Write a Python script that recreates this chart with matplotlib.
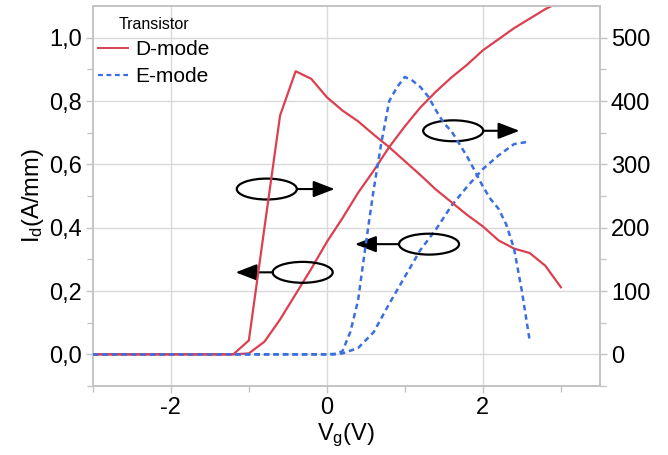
import matplotlib
matplotlib.use("Agg")
import matplotlib.pyplot as plt
from matplotlib.patches import Ellipse
from matplotlib.ticker import FixedLocator, FixedFormatter
from matplotlib.lines import Line2D

plt.rcParams['font.family'] = ['Liberation Sans', 'DejaVu Sans']
plt.rcParams['mathtext.default'] = 'regular'

# ---- data ----
vg_d = [-3.0, -2.8, -2.6, -2.4, -2.2, -2.0, -1.8, -1.6, -1.4, -1.2, -1.0, -0.8, -0.6, -0.4, -0.2,
        0.0, 0.2, 0.4, 0.6, 0.8, 1.0, 1.2, 1.4, 1.6, 1.8, 2.0, 2.2, 2.4, 2.6, 2.8, 3.0]
id_d = [0, 0, 0, 0, 0, 0, 0, 0, 0, 0, 0.003, 0.04, 0.11, 0.19, 0.27,
        0.355, 0.43, 0.51, 0.58, 0.655, 0.72, 0.78, 0.83, 0.875, 0.915, 0.96, 0.995, 1.03, 1.06, 1.09, 1.115]
gm_d = [0, 0, 0, 0, 0, 0, 0, 0, 0, 0, 22, 200, 377, 447, 435,
        406, 385, 368, 347, 327, 305, 283, 260, 240, 220, 202, 180, 167, 160, 140, 106]

vg_e_id = [-3.0, -2.0, -1.0, 0.0, 0.2, 0.4, 0.6, 0.8, 1.0, 1.2, 1.4, 1.6, 1.8, 2.0, 2.2, 2.4, 2.6]
id_e = [0, 0, 0, 0, 0.003, 0.02, 0.07, 0.16, 0.245, 0.33, 0.395, 0.47, 0.53, 0.585, 0.628, 0.664, 0.672]

vg_e_gm = [-3.0, -2.0, -1.0, 0.0, 0.1, 0.2, 0.3, 0.4, 0.5, 0.6, 0.7, 0.8, 0.9, 1.0, 1.1, 1.2, 1.3,
           1.4, 1.5, 1.6, 1.7, 1.8, 1.9, 2.0, 2.1, 2.2, 2.3, 2.4, 2.5, 2.6]
gm_e = [0, 0, 0, 0, 0, 5, 35, 85, 175, 260, 335, 400, 422, 438, 432, 422, 407,
        385, 365, 352, 332, 312, 289, 265, 245, 230, 205, 167, 100, 22]

left_ticks = [0.0, 0.2, 0.4, 0.6, 0.8, 1.0]
left_labels = ['0,0', '0,2', '0,4', '0,6', '0,8', '1,0']
right_ticks = [0, 100, 200, 300, 400, 500]
x_ticks = [-2, 0, 2]

red = '#dc3f50'
blue = '#3b6fe0'
grid_c = '#dadada'
spine_c = '#c4c4c4'
dash = (0, (2.2, 1.6))

fig = plt.figure(figsize=(6.68, 4.55), dpi=100)
ax = fig.add_axes([0.139, 0.1516, 0.759, 0.8352])
ax2 = ax.twinx()

ax.set_xlim(-3.0, 3.5)
ax.set_ylim(-0.1, 1.1)
ax2.set_ylim(-50, 550)

ax.plot(vg_d, id_d, color=red, lw=1.6, zorder=3)
ax2.plot(vg_d, gm_d, color=red, lw=1.6, zorder=3)
ax.plot(vg_e_id, id_e, color=blue, lw=1.8, ls=dash, zorder=4)
ax2.plot(vg_e_gm, gm_e, color=blue, lw=1.8, ls=dash, zorder=4)

ax.set_xticks(x_ticks)
ax.set_xticklabels([str(v) for v in x_ticks])
ax.xaxis.set_minor_locator(FixedLocator([-3, -1, 1, 3]))
ax.yaxis.set_major_locator(FixedLocator(left_ticks))
ax.yaxis.set_major_formatter(FixedFormatter(left_labels))
ax.yaxis.set_minor_locator(FixedLocator([-0.1, 0.1, 0.3, 0.5, 0.7, 0.9]))
ax2.yaxis.set_major_locator(FixedLocator(right_ticks))
ax2.yaxis.set_minor_locator(FixedLocator([-50, 50, 150, 250, 350, 450]))
ax.grid(True, which='major', color=grid_c, lw=1.0, zorder=0)
ax.set_axisbelow(True)

for a in (ax, ax2):
    for s in a.spines.values():
        s.set_color(spine_c)
        s.set_linewidth(1.2)
    a.tick_params(which='major', length=5, width=1, color=spine_c, labelsize=17, pad=3)
    a.tick_params(which='minor', length=4, width=1, color=spine_c)

ax.set_ylabel('I$_d$(A/mm)', fontsize=17, labelpad=2)
ax.set_xlabel('V$_g$(V)', fontsize=17, labelpad=2)

def marker(cx, cy, x0, x1):
    ax.add_patch(Ellipse((cx, cy), 0.77, 0.066, fill=False, ec='black', lw=1.6, zorder=5))
    ax.annotate('', xy=(x1, cy), xytext=(x0, cy),
                arrowprops=dict(arrowstyle='-|>,head_length=0.65,head_width=0.25',
                                mutation_scale=20, lw=1.5, color='black',
                                shrinkA=0, shrinkB=0), zorder=5)

marker(-0.77, 0.522, -0.385, 0.10)
marker(-0.31, 0.259, -0.69, -1.17)
marker(1.62, 0.706, 2.0, 2.47)
marker(1.31, 0.348, 0.92, 0.36)

handles = [Line2D([], [], color=red, lw=1.4),
           Line2D([], [], color=blue, lw=1.6, ls=dash)]
leg = ax.legend(handles, ['D-mode', 'E-mode'], title='Transistor', loc='upper left',
                bbox_to_anchor=(-0.015, 1.005), frameon=False, fontsize=15,
                title_fontsize=11.5, handlelength=1.45, handletextpad=0.35,
                borderaxespad=0.2, labelspacing=0.4)
leg.set_zorder(10)

fig.savefig('out.png', dpi=100)
